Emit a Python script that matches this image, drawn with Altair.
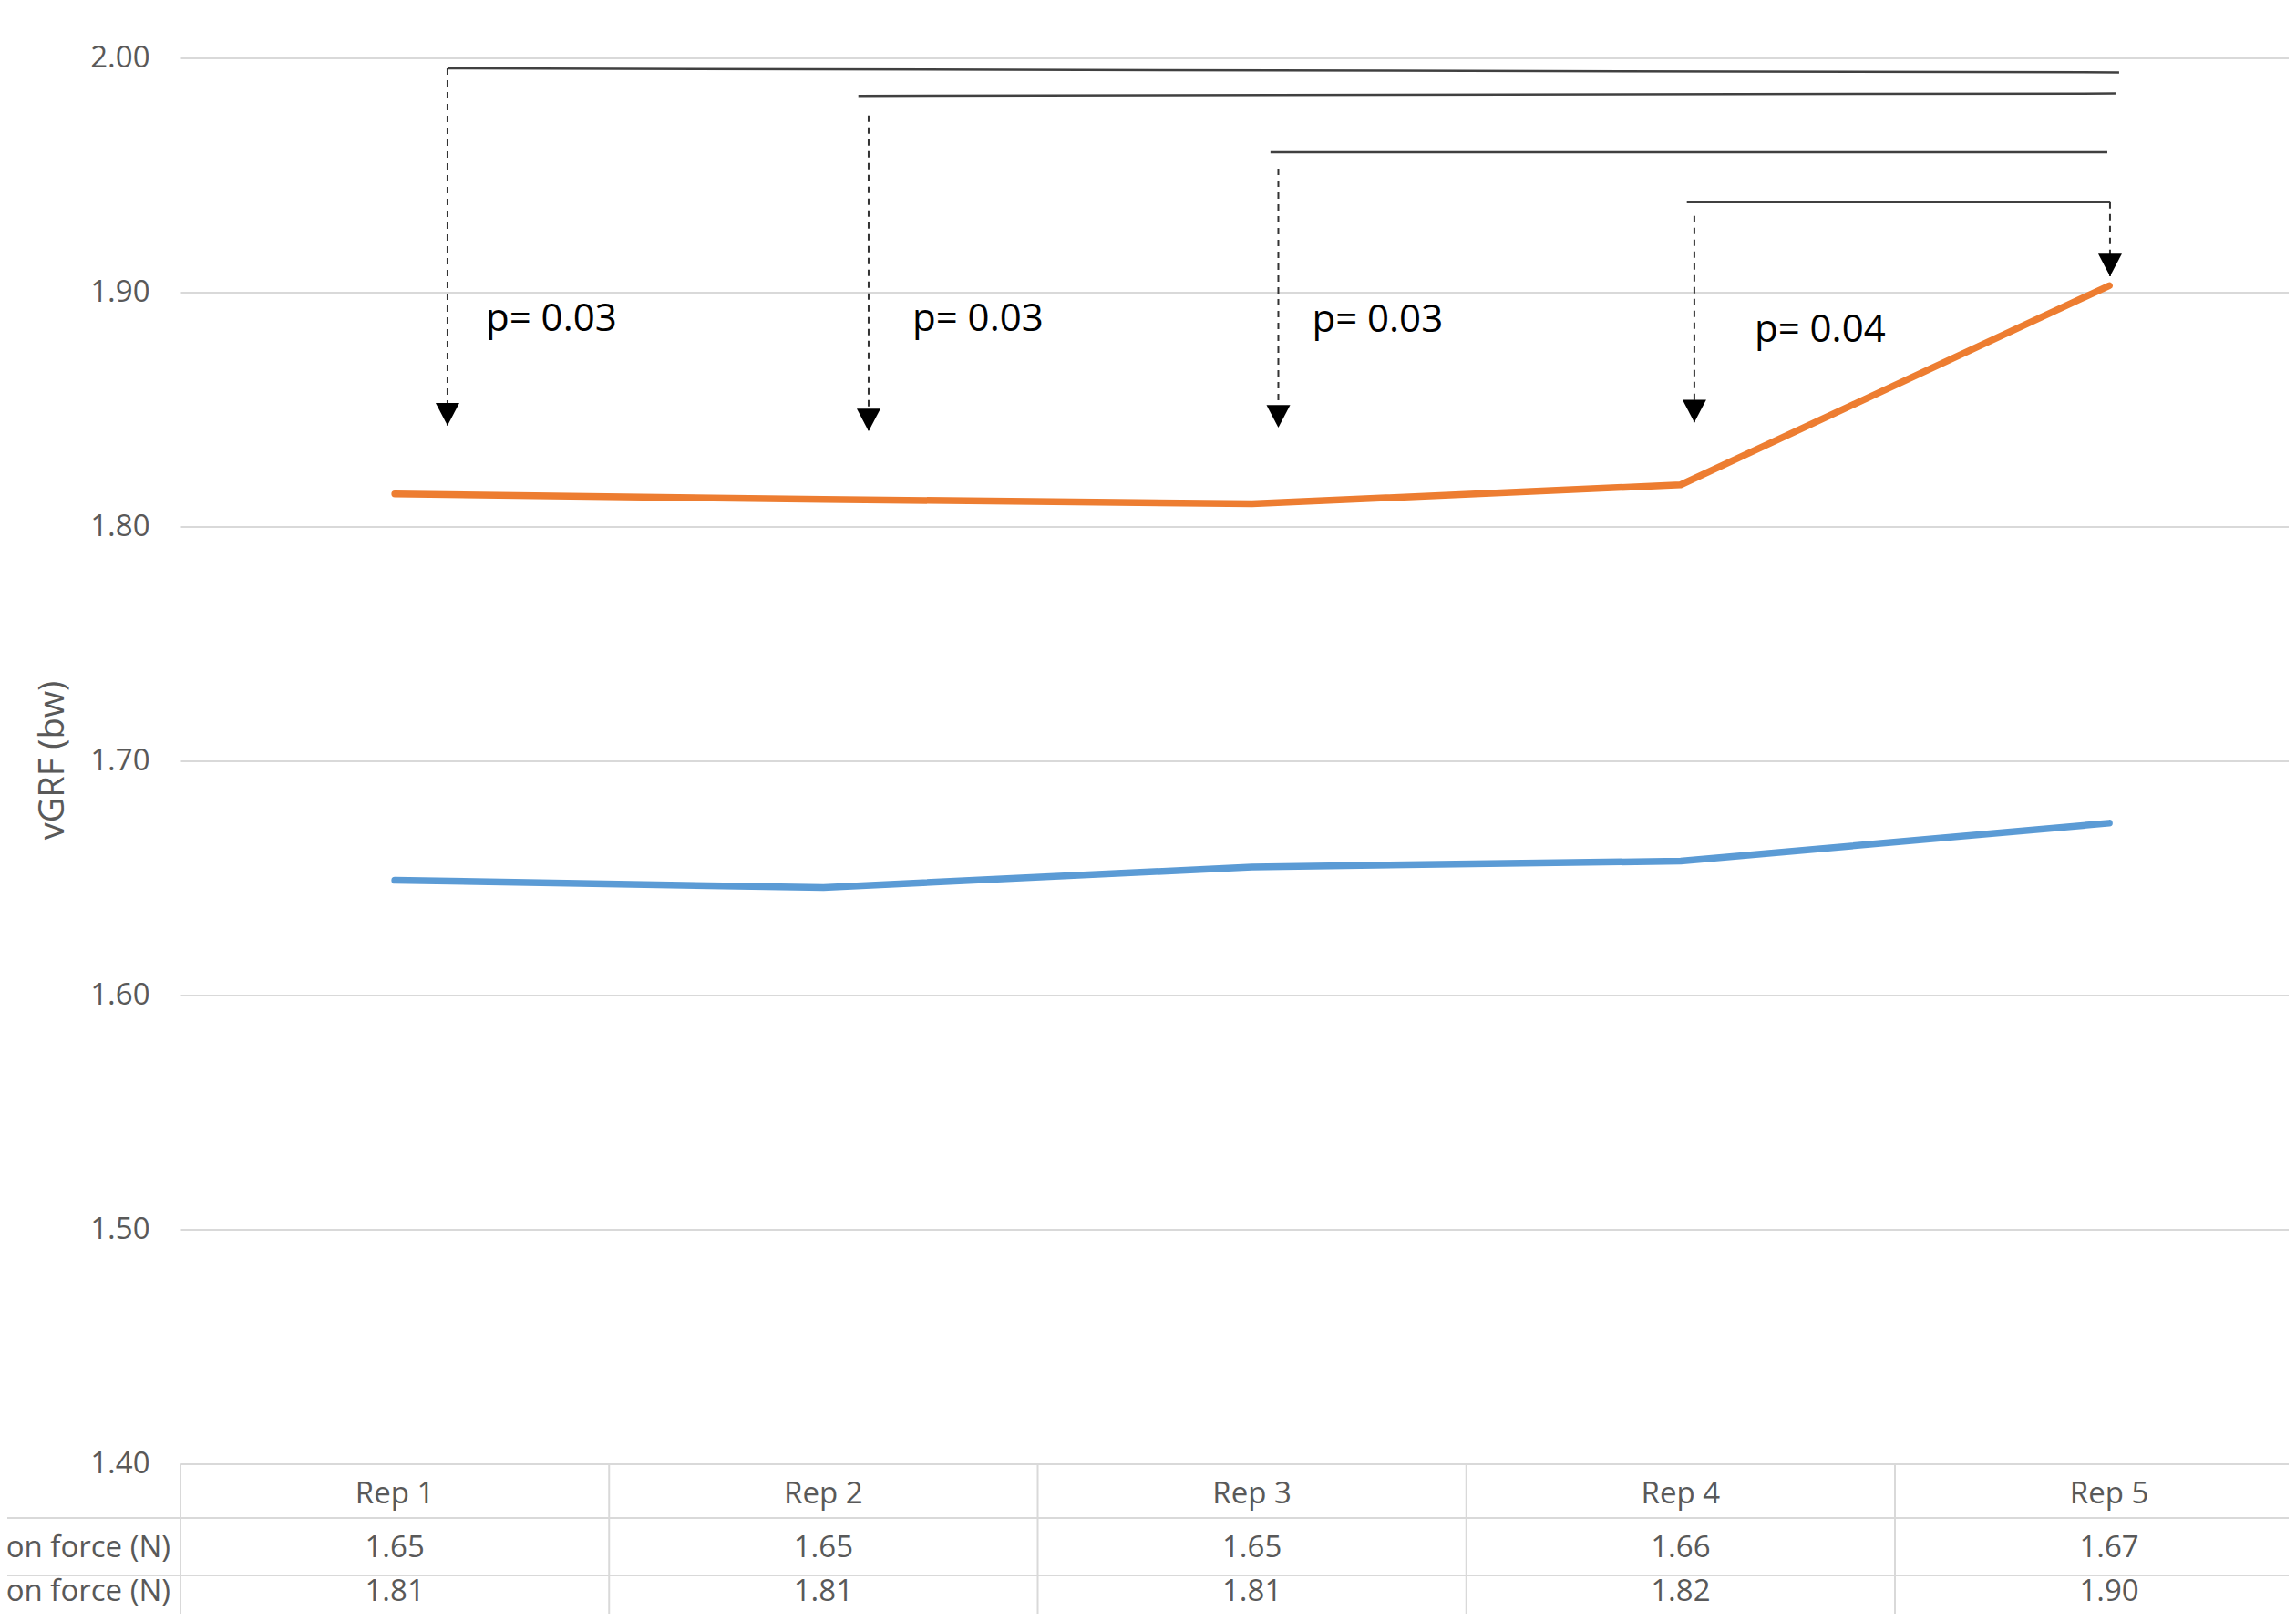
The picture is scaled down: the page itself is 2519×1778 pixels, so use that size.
import altair as alt
import pandas as pd

# ---------------- data ----------------
reps = ["Rep 1", "Rep 2", "Rep 3", "Rep 4", "Rep 5"]
rep_index = [0, 1, 2, 3, 4]
series_names = ["on force (N)", "on force (N) "]  # row labels as visible (truncated on the left)
series_a = [1.6490, 1.6459, 1.6547, 1.6572, 1.6734]   # blue
series_b = [1.8139, 1.8116, 1.8097, 1.8178, 1.9028]   # orange
table_a = ["1.65", "1.65", "1.65", "1.66", "1.67"]
table_b = ["1.81", "1.81", "1.81", "1.82", "1.90"]
y_ticks = [1.40, 1.50, 1.60, 1.70, 1.80, 1.90, 2.00]

# significance brackets (x in category-index units, y in vGRF units)
br_x1 = [0.123, 1.0815, 2.043, 3.0145]
br_x2 = [4.023, 4.0146, 3.9955, 4.0018]
br_y1 = [1.9955, 1.9838, 1.9597, 1.9384]
br_y2 = [1.9938, 1.9848, 1.9597, 1.9384]
dash_x = [0.123, 1.1055, 2.0614, 3.032, 4.0018]
dash_top = [1.9955, 1.9754, 1.9527, 1.9326, 1.9384]
arrow_tip = [1.8431, 1.8407, 1.8422, 1.8445, 1.9068]
p_x = [0.2124, 1.2076, 2.140, 3.1725]
p_y = [1.8835, 1.8836, 1.8831, 1.8788]
p_text = ["p= 0.03", "p= 0.03", "p= 0.03", "p= 0.04"]

# ---------------- layout ----------------
W, H = 2313, 1542
FONT = "Open Sans"
GRAY = "#595959"
GRID = "#d9d9d9"

xscale = alt.Scale(domain=[-0.5, 4.4187], nice=False, zero=False)
yscale = alt.Scale(domain=[1.4, 2.0], nice=False, zero=False)
yaxis = alt.Axis(values=y_ticks, format=".2f", grid=True, gridColor=GRID, gridWidth=2,
                 domain=False, ticks=False, labelFontSize=33, labelColor=GRAY,
                 labelFont=FONT, labelPadding=34, title=None)


def X(f):
    return alt.X(f, scale=xscale, axis=None)


def Y(f):
    return alt.Y(f, scale=yscale, axis=yaxis)


lines_df = pd.DataFrame({
    "i": rep_index * 2,
    "v": series_a + series_b,
    "s": ["A"] * 5 + ["B"] * 5,
})

lines = alt.Chart(lines_df).mark_line(strokeWidth=7.5, strokeCap="round", strokeJoin="round").encode(
    x=X("i:Q"), y=Y("v:Q"),
    color=alt.Color("s:N", scale=alt.Scale(domain=["A", "B"], range=["#5B9BD5", "#ED7D31"]), legend=None),
    detail="s:N",
)

br_df = pd.DataFrame({"x1": br_x1, "x2": br_x2, "y1": br_y1, "y2": br_y2})
brackets = alt.Chart(br_df).mark_rule(strokeWidth=2.5, color="#404040").encode(
    x=X("x1:Q"), x2="x2:Q", y=Y("y1:Q"), y2="y2:Q"
)

dash_df = pd.DataFrame({"x": dash_x, "top": dash_top, "tip": arrow_tip})
dashes = alt.Chart(dash_df).mark_rule(strokeWidth=2, color="#333333", strokeDash=[7, 6]).encode(
    x=X("x:Q"), y=Y("top:Q"), y2="tip:Q"
)
arrows = alt.Chart(dash_df).mark_point(shape="M-1,-1.9L1,-1.9L0,0Z", filled=True, size=676,
                                       color="black", opacity=1, strokeWidth=0).encode(
    x=X("x:Q"), y=Y("tip:Q")
)

p_df = pd.DataFrame({"x": p_x, "y": p_y, "t": p_text})
ptext = alt.Chart(p_df).mark_text(font=FONT, fontSize=42, color="black", align="left",
                                  baseline="alphabetic").encode(
    x=X("x:Q"), y=Y("y:Q"), text="t:N"
)

# y axis title
ytitle = alt.Chart(pd.DataFrame({"t": ["vGRF (bw)"]})).mark_text(
    font=FONT, fontSize=38, color=GRAY, angle=270, align="center", baseline="middle"
).encode(x=alt.value(-139), y=alt.value(770.5), text="t:N")

# ---------------- data table below the plot ----------------
vlines_df = pd.DataFrame({"bx": [-0.5, 0.5, 1.5, 2.5, 3.5]})
vlines = alt.Chart(vlines_df).mark_rule(strokeWidth=2, color=GRID).encode(
    x=X("bx:Q"), y=alt.value(H), y2=alt.value(H + 200)
)
hlines_df = pd.DataFrame({"ry": [H + 59.5, H + 122.5]})
hlines = alt.Chart(hlines_df).mark_rule(strokeWidth=2, color=GRID).encode(
    x=alt.value(-200), x2=alt.value(W), y=alt.Y("ry:Q", scale=None, axis=None)
)

tab_df = pd.DataFrame({"i": rep_index, "rep": reps, "a": table_a, "b": table_b})
tab_style = dict(font=FONT, fontSize=33, color=GRAY, align="center", baseline="middle")
row_head = alt.Chart(tab_df).mark_text(**tab_style).encode(x=X("i:Q"), y=alt.value(H + 33), text="rep:N")
row_a = alt.Chart(tab_df).mark_text(**tab_style).encode(x=X("i:Q"), y=alt.value(H + 92), text="a:N")
row_b = alt.Chart(tab_df).mark_text(**tab_style).encode(x=X("i:Q"), y=alt.value(H + 140), text="b:N")

lab_df = pd.DataFrame({"name": series_names, "yy": [H + 92, H + 140]})
row_labels = alt.Chart(lab_df).mark_text(font=FONT, fontSize=33, color=GRAY, align="right",
                                         baseline="middle").encode(
    x=alt.value(-11), y=alt.Y("yy:Q", scale=None, axis=None), text="name:N"
)

chart = alt.layer(
    lines, brackets, dashes, arrows, ptext, ytitle,
    vlines, hlines, row_head, row_a, row_b, row_labels,
).resolve_scale(y="shared").properties(
    width=W, height=H,
    autosize=alt.AutoSizeParams(type="none"),
    padding={"left": 190, "top": 55.5, "right": 0, "bottom": 164.5},
    background="white",
).configure_view(stroke=None)

chart.save("out.html", embed_options={"renderer": "svg", "actions": False})
